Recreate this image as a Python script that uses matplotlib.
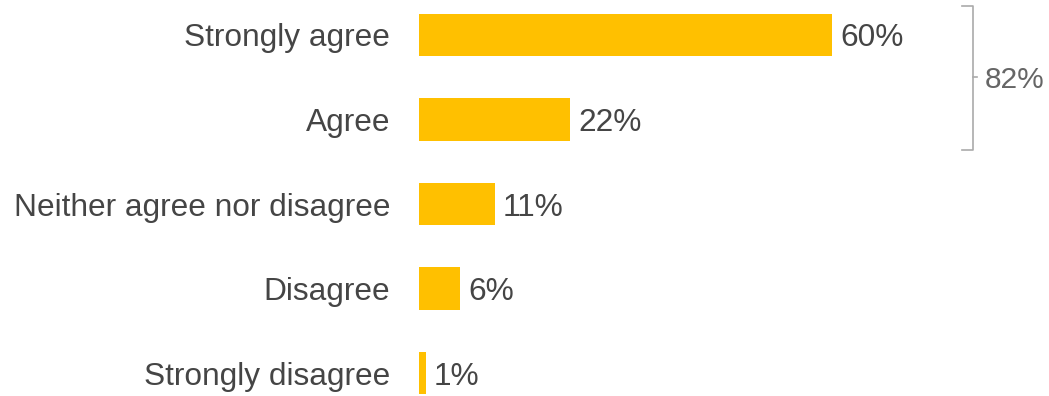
import matplotlib
matplotlib.use("Agg")
import matplotlib.pyplot as plt

categories = ["Strongly agree", "Agree", "Neither agree nor disagree", "Disagree", "Strongly disagree"]
values = [60, 22, 11, 6, 1]
bracket_total = "82%"

plt.rcParams["font.family"] = ["Liberation Sans", "DejaVu Sans"]

fig = plt.figure(figsize=(10.49, 3.96), dpi=100)
ax = fig.add_axes([419 / 1049, 0, 1 - 419 / 1049, 1])

bar_color = "#FFC000"
text_color = "#454545"
fs = 22.8
pos = list(range(len(categories)))
ax.barh(pos, values, height=0.5, color=bar_color)

ax.set_xlim(0, 91.5)
ax.set_ylim(4.272, -0.414)
ax.axis("off")

for p, v, c in zip(pos, values, categories):
    ax.annotate(f"{v}%", xy=(v, p), xytext=(8, 0), textcoords="offset pixels",
                va="center_baseline", ha="left", fontsize=fs, color=text_color, annotation_clip=False)
    ax.annotate(c, xy=(0, p), xytext=(-29, 0), textcoords="offset pixels",
                va="center_baseline", ha="right", fontsize=fs, color=text_color, annotation_clip=False)

# bracket grouping the two agree categories
bx = 80.5
line_kw = dict(color="#AAAAAA", lw=1.2, clip_on=False)
ax.plot([78.9, bx, bx, 78.9], [-0.343, -0.343, 1.36, 1.36], **line_kw)
ax.plot([bx, bx + 0.5], [0.5, 0.5], **line_kw)
ax.annotate(bracket_total, xy=(bx + 1.6, 0.5), xytext=(0, 0), textcoords="offset pixels",
            va="center_baseline", ha="left", fontsize=21.5, color="#666666", annotation_clip=False)

fig.savefig("out.png", dpi=100)
